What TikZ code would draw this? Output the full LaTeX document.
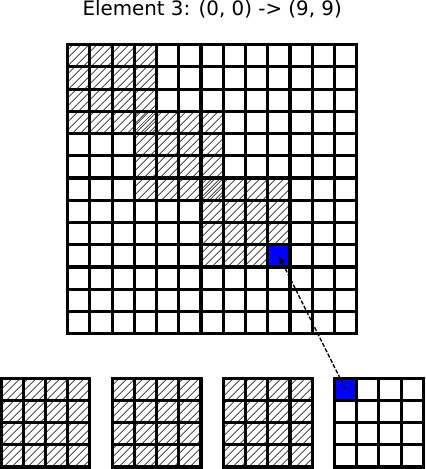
\documentclass[tikz,border=0pt]{standalone}
\usepackage{fontspec}
\setmainfont{DejaVu Sans}
\usetikzlibrary{calc, positioning}
\usetikzlibrary{arrows.meta}
\usetikzlibrary{patterns.meta}

\tikzset{
  gridline/.style={black,line width=2pt,line cap=rect,step=0.5cm},
  hatched/.style={pattern={Lines[angle=45,distance=4pt,line width=0.5pt]},pattern color=black},
  picked/.style={fill=blue},
  link/.style={black,line width=0.8pt,dash pattern=on 2.6pt off 1.2pt,-{Latex[length=5pt,width=4pt]}},
}

\begin{document}
\begin{tikzpicture}[x=0.5cm,y=0.5cm]
\useasboundingbox (-0.045,-0.09) rectangle (19.12,21.01);
\def\cells{13}
\def\gx{3}
\def\gy{6}
\def\tilesize{4}
\def\stride{3}
\coordinate (GridLow) at (\gx,\gy);
\coordinate (GridHigh) at ({\gx+\cells},{\gy+\cells});
\coordinate (BigCell) at (12.5,9.5);
\coordinate (SmallCell) at (15.5,3.5);
\node[anchor=base,font=\fontsize{12.7}{15}\selectfont] (Title) at (9.5,20.29) {Element 3: (0, 0) -> (9, 9)};

% tiles 0..2 in the big grid
\foreach \k in {0,1,2}
  \fill[hatched] ({\gx+\stride*\k},{\gy+\cells-\stride*\k-\tilesize}) rectangle +(\tilesize,\tilesize);
\fill[picked] (12,9) rectangle (13,10);

% copies below
\foreach \sx in {0,5,10}
  \fill[hatched] (\sx,0) rectangle +(\tilesize,\tilesize);
\fill[picked] (15,3) rectangle (16,4);

\draw[gridline] (GridLow) grid (GridHigh);
\foreach \sx in {0,5,10,15}
  \draw[gridline] (\sx,0) grid +(\tilesize,\tilesize);

\draw[link] (SmallCell) -- (BigCell);
\end{tikzpicture}
\end{document}
